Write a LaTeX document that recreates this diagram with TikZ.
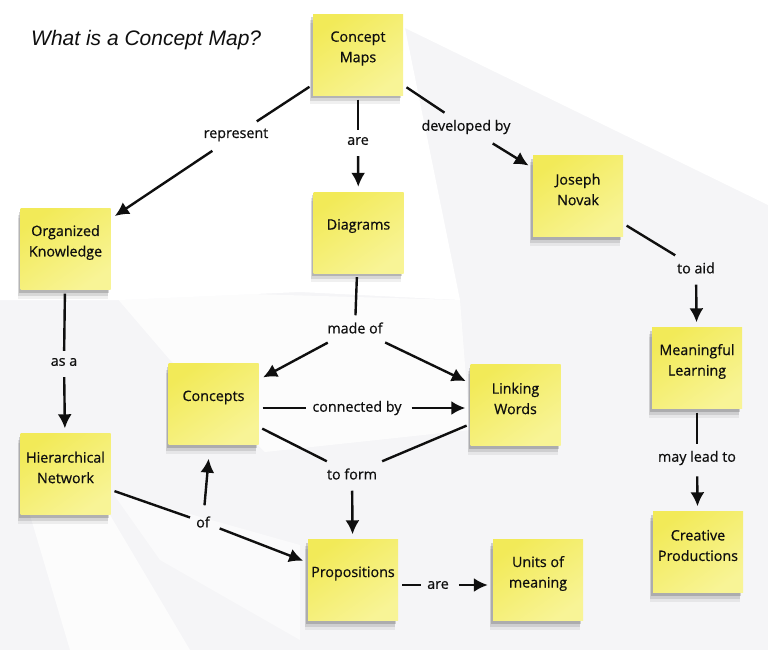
\documentclass[tikz,border=0pt]{standalone}
\usepackage{fontspec}
\setmainfont{Open Sans}
\newfontfamily\notefont{Open Sans}[FakeBold=0.6]
\newfontfamily\titlefont{Liberation Sans}
\usetikzlibrary{arrows.meta,shadows}
\definecolor{noteA}{RGB}{242,234,88}
\definecolor{noteB}{RGB}{248,244,150}
\definecolor{bggray}{RGB}{245,245,247}
\definecolor{ink}{RGB}{15,15,15}
\newcommand\stickynote[4]{%
  \node[note] (#1) at (#2,#3) {};
  \node[notetext] (#1-t) at ([yshift=6.5pt]#1.center) {#4};}
\begin{document}
\begin{tikzpicture}[x=1pt,y=-1pt,
  note/.style={rectangle, minimum width=90pt, minimum height=81pt, inner sep=0pt,
    top color=noteA, bottom color=noteB, shading angle=35,
    drop shadow={shadow xshift=-3pt, shadow yshift=-9pt, opacity=.06, fill=black},
    drop shadow={shadow xshift=-3pt, shadow yshift=-6pt, opacity=.10, fill=black},
    drop shadow={shadow xshift=-2pt, shadow yshift=-3pt, opacity=.16, fill=black}},
  notetext/.style={align=center, font=\notefont\fontsize{14.3}{20.5}\selectfont, text=ink, inner sep=0pt},
  lbl/.style={font=\notefont\fontsize{14.3}{16}\selectfont, inner xsep=6pt, inner ysep=7pt, text=ink},
  con/.style={line width=2.4pt, draw=ink, shorten <=4pt},
  arr/.style={con, -{Latex[length=14pt,width=14pt]}, shorten >=5pt}
]
\useasboundingbox (0,0) rectangle (768,650);
% background
\fill[bggray] (0,0) rectangle (768,650);
\fill[white] (0,0) -- (768,0) -- (768,205) -- (405,28) -- (460,300) -- (300,292) -- (120,300) -- (0,300) -- cycle;
\fill[white, opacity=.7] (110,290) -- (460,300) -- (470,430) -- (265,452) -- (170,360) -- cycle;
\fill[white, opacity=.7] (30,515) -- (110,515) -- (190,650) -- (70,650) -- cycle;
\fill[white, opacity=.5] (112,492) -- (300,545) -- (300,640) -- (160,560) -- cycle;

% title
\node[font=\titlefont\itshape\fontsize{21}{24}\selectfont, anchor=west, text=ink, inner sep=0pt] (title) at (31,40) {What is a Concept Map?};

% notes
\stickynote{cm}{358}{55}{Concept\\Maps}
\stickynote{ok}{65.5}{249}{Organized\\Knowledge}
\stickynote{dg}{358.5}{232.5}{Diagrams}
\stickynote{jn}{578}{196}{Joseph\\Novak}
\stickynote{cc}{213.5}{404}{Concepts}
\stickynote{lw}{515.5}{405}{Linking\\Words}
\stickynote{hn}{65.5}{474}{Hierarchical\\Network}
\stickynote{ml}{697}{368}{Meaningful\\Learning}
\stickynote{cp}{698}{552}{Creative\\Productions}
\stickynote{pr}{353}{580}{Propositions}
\stickynote{um}{538}{580}{Units of\\meaning}

% linking phrases
\node[lbl] (rep) at (236,135) {represent};
\node[lbl] (are1) at (358,141) {are};
\node[lbl] (dev) at (466,127) {developed by};
\node[lbl] (made) at (355,328) {made of};
\node[lbl] (aid) at (696,268) {to aid};
\node[lbl] (asa) at (64,362) {as a};
\node[lbl] (cby) at (357,408) {connected by};
\node[lbl] (tof) at (352,474) {to form};
\node[lbl] (of) at (203,522) {of};
\node[lbl] (are2) at (438,585) {are};
\node[lbl] (may) at (697,458) {may lead to};

% connectors
\draw[con] (cm) -- (rep);
\draw[arr] (rep) -- (ok);
\draw[con] (cm) -- (are1);
\draw[arr] (are1) -- (dg);
\draw[con] (cm) -- (dev);
\draw[arr] (dev) -- (jn);
\draw[con] (dg) -- (made);
\draw[arr] (made) -- (cc);
\draw[arr] (made) -- (lw);
\draw[con] (jn) -- (aid);
\draw[arr] (aid) -- (ml);
\draw[con] (ok) -- (asa);
\draw[arr] (asa) -- (hn);
\draw[con] (cc.east |- cby) -- (cby.west);
\draw[arr] (cby.east) -- (lw.west |- cby);
\draw[con] (cc) -- (tof);
\draw[con] (lw) -- (tof);
\draw[arr] (tof) -- (pr);
\draw[con] (hn) -- (of);
\draw[arr, shorten >=14pt] (of) -- (cc);
\draw[arr] (of) -- (pr);
\draw[con] (pr.east |- are2) -- (are2.west);
\draw[arr] (are2.east) -- (um.west |- are2);
\draw[con] (ml) -- (may);
\draw[arr] (may) -- (cp);
\end{tikzpicture}
\end{document}
